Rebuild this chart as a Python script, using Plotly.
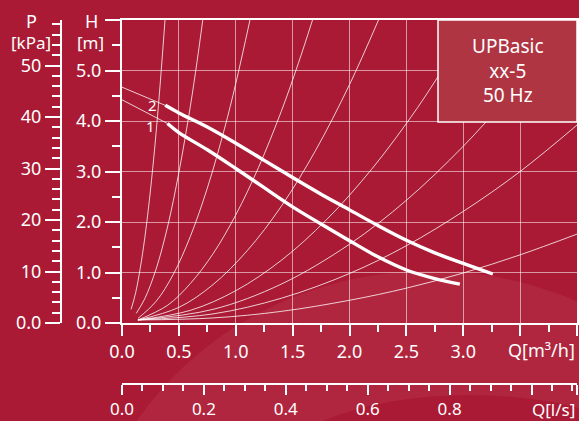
import plotly.graph_objects as go

# ---------------- data ----------------
# pump performance curves (Q in m3/h, H in m)
curve2_q = [0.38, 0.5, 0.75, 1.0, 1.25, 1.5, 1.75, 2.0, 2.25, 2.5, 2.75, 3.0, 3.26]
curve2_h = [4.31, 4.16, 3.88, 3.56, 3.22, 2.88, 2.55, 2.24, 1.93, 1.64, 1.39, 1.18, 0.97]
curve1_q = [0.40, 0.5, 0.75, 1.0, 1.25, 1.5, 1.75, 2.0, 2.25, 2.5, 2.75, 2.97]
curve1_h = [3.95, 3.77, 3.43, 3.06, 2.68, 2.30, 1.96, 1.63, 1.31, 1.05, 0.88, 0.77]
# thin lead-in segments from the H axis
lead2_q = [0.0, 0.38]
lead2_h = [4.67, 4.31]
lead1_q = [0.0, 0.40]
lead1_h = [4.42, 3.95]

# system (resistance) curves
sys1_q = [0.08, 0.12, 0.16, 0.2, 0.24, 0.28, 0.32, 0.35, 0.378]
sys1_h = [0.27, 0.60, 1.08, 1.68, 2.42, 3.29, 4.30, 5.15, 6.00]
sys2_q = [0.125, 0.2, 0.3, 0.4, 0.5, 0.6, 0.66, 0.71]
sys2_h = [0.19, 0.48, 1.07, 1.90, 2.98, 4.28, 5.18, 6.00]
sys3_q = [0.14, 0.3, 0.45, 0.6, 0.75, 0.9, 1.0, 1.125]
sys3_h = [0.09, 0.43, 0.96, 1.71, 2.67, 3.84, 4.74, 6.00]
sys4_q = [0.14, 0.4, 0.6, 0.8, 1.0, 1.2, 1.4, 1.55, 1.675]
sys4_h = [0.06, 0.35, 0.78, 1.37, 2.14, 3.08, 4.19, 5.14, 6.00]
sys5_q = [0.14, 0.5, 0.8, 1.1, 1.4, 1.7, 2.0, 2.255]
sys5_h = [0.06, 0.31, 0.76, 1.43, 2.31, 3.41, 4.72, 6.00]
sys6_q = [0.14, 0.6, 1.0, 1.4, 1.8, 2.2, 2.6, 2.9, 3.08]
sys6_h = [0.06, 0.25, 0.64, 1.24, 2.05, 3.06, 4.27, 5.32, 6.00]
sys7_q = [0.14, 0.8, 1.4, 2.0, 2.5, 3.0, 3.4, 3.93]
sys7_h = [0.06, 0.27, 0.77, 1.56, 2.43, 3.50, 4.50, 6.00]
sys8_q = [0.14, 0.8, 1.4, 2.0, 2.5, 3.0, 3.5, 4.0]
sys8_h = [0.06, 0.18, 0.49, 0.98, 1.53, 2.21, 3.00, 3.92]
sys9_q = [0.14, 0.8, 1.4, 2.0, 2.5, 3.0, 3.5, 4.0]
sys9_h = [0.06, 0.10, 0.23, 0.45, 0.69, 0.99, 1.35, 1.76]
system_curves = [(sys1_q, sys1_h), (sys2_q, sys2_h), (sys3_q, sys3_h),
                 (sys4_q, sys4_h), (sys5_q, sys5_h), (sys6_q, sys6_h),
                 (sys7_q, sys7_h), (sys8_q, sys8_h), (sys9_q, sys9_h)]

# tick labels
q_m3h_ticks = [0.0, 0.5, 1.0, 1.5, 2.0, 2.5, 3.0, 3.5, 4.0]
q_m3h_text = ["0.0", "0.5", "1.0", "1.5", "2.0", "2.5", "3.0", "", ""]
h_ticks = [0, 1, 2, 3, 4, 5, 6]
h_text = ["0.0", "1.0", "2.0", "3.0", "4.0", "5.0", ""]
p_ticks = [0, 10, 20, 30, 40, 50]
p_text = ["0.0", "10", "20", "30", "40", "50"]
q_ls_ticks = [0.0, 0.2, 0.4, 0.6, 0.8, 1.0, 4.0 / 3.6]
q_ls_text = ["0.0", "0.2", "0.4", "0.6", "0.8", "", ""]

H_MAX = 6.0
Q_MAX = 4.0
KPA_PER_M = 9.80665
LS_PER_M3H = 1 / 3.6

# ---------------- styling ----------------
BG = "#AA1A35"
LIGHT = "#B0263E"
WHITE = "white"
GRID = "rgba(255,255,255,0.55)"
SYS = "rgba(255,255,255,0.78)"
FONT = "Noto Sans"

W, Hpx = 579, 421
ML, MR, MT, MB = 0, 2, 20, 0
PW, PH = W - ML - MR, Hpx - MT - MB
PLOT_L = 122
PLOT_B = 323


def px(x):
    return (x - ML) / PW


def py(y):
    return (Hpx - MB - y) / PH


fig = go.Figure()

for q, h in system_curves:
    fig.add_trace(go.Scatter(x=q, y=h, mode="lines", line=dict(color=SYS, width=1, shape="spline"),
                             hoverinfo="skip", showlegend=False))

for q, h in [(lead2_q, lead2_h), (lead1_q, lead1_h)]:
    fig.add_trace(go.Scatter(x=q, y=h, mode="lines", line=dict(color=SYS, width=1),
                             hoverinfo="skip", showlegend=False))

for q, h in [(curve2_q, curve2_h), (curve1_q, curve1_h)]:
    fig.add_trace(go.Scatter(x=q, y=h, mode="lines", line=dict(color=WHITE, width=3.4, shape="spline"),
                             hoverinfo="skip", showlegend=False))

# dummy traces so the secondary axes are drawn
fig.add_trace(go.Scatter(x=[0, Q_MAX * LS_PER_M3H], y=[0, 0], xaxis="x2", yaxis="y",
                         mode="markers", marker=dict(opacity=0), hoverinfo="skip", showlegend=False))
fig.add_trace(go.Scatter(x=[0, 0], y=[0, H_MAX * KPA_PER_M], xaxis="x", yaxis="y2",
                         mode="markers", marker=dict(opacity=0), hoverinfo="skip", showlegend=False))

tickfont = dict(family=FONT, size=18, color=WHITE)
x_domain = [px(PLOT_L), 1]
y_domain = [py(PLOT_B), 1]

fig.update_layout(
    width=W, height=Hpx,
    margin=dict(l=ML, r=MR, t=MT, b=MB, pad=0, autoexpand=False),
    paper_bgcolor=BG, plot_bgcolor="rgba(0,0,0,0)",
    showlegend=False,
    xaxis=dict(domain=x_domain, range=[0, Q_MAX], tickmode="array", tickvals=q_m3h_ticks,
               ticktext=q_m3h_text, ticks="outside", ticklen=11, tickwidth=2, tickcolor=WHITE,
               showline=True, linecolor=WHITE, linewidth=2, mirror=True, automargin=False,
               showgrid=True, gridcolor=GRID, gridwidth=1, zeroline=False, tickfont=tickfont,
               minor=dict(tickmode="linear", tick0=0, dtick=0.25, ticks="outside", ticklen=7,
                          tickwidth=1.5, tickcolor=WHITE, showgrid=False),
               anchor="y", fixedrange=True),
    yaxis=dict(domain=y_domain, range=[0, H_MAX], tickmode="array", tickvals=h_ticks,
               ticktext=h_text, ticks="outside", ticklen=15, tickwidth=2, tickcolor=WHITE,
               showline=True, linecolor=WHITE, linewidth=2, mirror=True, automargin=False,
               showgrid=True, gridcolor=GRID, gridwidth=1, zeroline=False, tickfont=tickfont,
               minor=dict(tickmode="linear", tick0=0, dtick=0.5, ticks="outside", ticklen=8,
                          tickwidth=1.5, tickcolor=WHITE, showgrid=False),
               anchor="x", fixedrange=True),
    yaxis2=dict(overlaying="y", anchor="free", position=px(61), side="left", automargin=False,
                range=[0, H_MAX * KPA_PER_M], tickmode="array", tickvals=p_ticks, ticktext=p_text,
                ticks="outside", ticklen=15, tickwidth=2, tickcolor=WHITE,
                showline=True, linecolor=WHITE, linewidth=2, showgrid=False, zeroline=False,
                tickfont=tickfont,
                minor=dict(tickmode="linear", tick0=0, dtick=2, ticks="outside", ticklen=8,
                           tickwidth=1.5, tickcolor=WHITE, showgrid=False),
                fixedrange=True),
    xaxis2=dict(overlaying="x", anchor="free", position=py(384), side="bottom", automargin=False,
                range=[0, Q_MAX * LS_PER_M3H], tickmode="array", tickvals=q_ls_ticks,
                ticktext=q_ls_text, ticks="outside", ticklen=10, tickwidth=2, tickcolor=WHITE,
                showline=True, linecolor=WHITE, linewidth=2, showgrid=False, zeroline=False,
                tickfont=dict(family=FONT, size=17, color=WHITE),
                minor=dict(tickmode="linear", tick0=0, dtick=0.05, ticks="outside", ticklen=6,
                           tickwidth=1.5, tickcolor=WHITE, showgrid=False),
                fixedrange=True),
)

# background swoosh
fig.add_shape(type="circle", xref="paper", yref="paper", layer="below",
              x0=px(80), x1=px(780), y0=py(931), y1=py(271),
              fillcolor=LIGHT, line=dict(width=0))
fig.add_shape(type="circle", xref="paper", yref="paper", layer="below",
              x0=px(260), x1=px(680), y0=py(575), y1=py(395),
              fillcolor=BG, line=dict(width=0))

# info box
fig.add_shape(type="rect", xref="paper", yref="paper", layer="above",
              x0=px(438), x1=px(577), y0=py(122), y1=py(20),
              fillcolor="#B03543", line=dict(color=WHITE, width=1.5))

ann_font = dict(family=FONT, size=18, color=WHITE)
unit_font = dict(family=FONT, size=17, color=WHITE)
box_font = dict(family=FONT, size=19, color=WHITE)
annotations = [
    dict(text="P", x=px(31), y=py(21), font=ann_font),
    dict(text="[kPa]", x=px(31), y=py(43), font=unit_font),
    dict(text="H", x=px(91), y=py(21), font=ann_font),
    dict(text="[m]", x=px(90), y=py(43), font=unit_font),
    dict(text="UPBasic<br>xx-5<br>50 Hz", x=px(507.5), y=py(70), font=box_font),
    dict(text="Q[m³/h]", x=px(577), y=py(350), xanchor="right", font=ann_font),
    dict(text="Q[l/s]", x=px(577), y=py(409), xanchor="right", font=unit_font),
]
for a in annotations:
    a.setdefault("xanchor", "center")
    fig.add_annotation(xref="paper", yref="paper", yanchor="middle", showarrow=False, **a)

fig.add_annotation(text="2", x=0.27, y=4.32, xref="x", yref="y", showarrow=False,
                   font=dict(family=FONT, size=15, color=WHITE))
fig.add_annotation(text="1", x=0.25, y=3.91, xref="x", yref="y", showarrow=False,
                   font=dict(family=FONT, size=15, color=WHITE))

fig.write_html("out.html")
